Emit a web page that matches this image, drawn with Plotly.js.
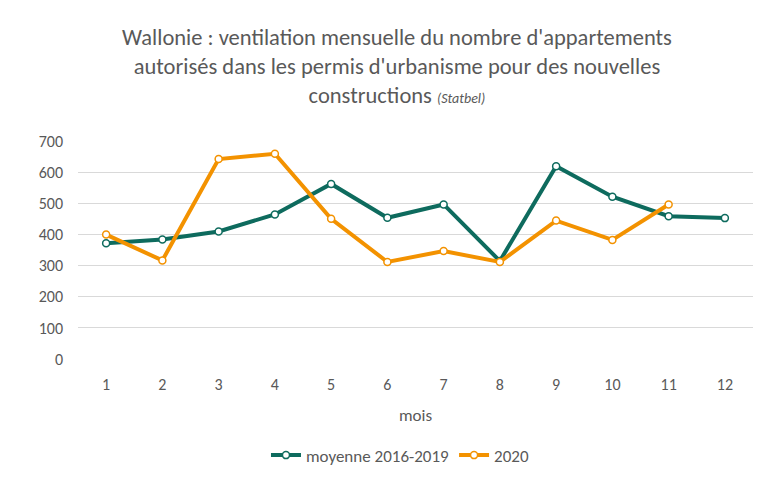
<!DOCTYPE html>
<html><head><meta charset="utf-8">
<script src="https://cdn.plot.ly/plotly-3.0.1.min.js"></script>
<style>html,body{margin:0;padding:0;background:#fff}#c{width:759px;height:482px}</style>
</head><body><div id="c"></div>
<script>
const mois = [1,2,3,4,5,6,7,8,9,10,11,12];
const moyenne = [372,384,410,465,563,454,497,315,620,522,459,453];
const an2020 = [400,317,643,660,451,312,347,312,445,383,497];
const tickLabels = ['0','100','200','300','400','500','600','700'];
const tickVals = [0,100,200,300,400,500,600,700];

const FONT = "Carlito, 'Liberation Sans Narrow', Lato, sans-serif";
const GREY = '#595959';

const traces = [
  {x: mois, y: moyenne, name: 'moyenne 2016-2019', type: 'scatter', mode: 'lines+markers',
   line: {color: '#0e6b5e', width: 4}, marker: {size: 7, color: '#ffffff', line: {color: '#0e6b5e', width: 1.5}}},
  {x: mois.slice(0, an2020.length), y: an2020, name: '2020', type: 'scatter', mode: 'lines+markers',
   line: {color: '#f39200', width: 4}, marker: {size: 7, color: '#ffffff', line: {color: '#f39200', width: 1.5}}}
];

const layout = {
  width: 759, height: 482,
  margin: {l: 77.5, r: 6, t: 140.7, b: 123.3},
  paper_bgcolor: '#fff', plot_bgcolor: '#fff',
  font: {family: FONT, color: GREY, size: 16},
  title: {text: "Wallonie : ventilation mensuelle du nombre d'appartements<br>autorisés dans les permis d'urbanisme pour des nouvelles<br>constructions <i><span style='font-size:14px'>(Statbel)</span></i>",
          font: {family: FONT, size: 22.5, color: GREY}, x: 0.523, xanchor: 'center', y: 0.907, yanchor: 'top', xref: 'container', yref: 'container'},
  xaxis: {range: [0.5, 12.5], tickvals: mois, ticktext: mois.map(String), showgrid: false, zeroline: false,
          showline: false, ticks: '', ticklabelstandoff: 14,
          title: {text: 'mois', font: {size: 17, color: GREY}, standoff: 16}},
  yaxis: {range: [0, 701], tickvals: tickVals, ticktext: tickLabels, gridcolor: '#d9d9d9', gridwidth: 1,
          zeroline: false, showline: false, ticks: '', ticklabelstandoff: 14},
  legend: {orientation: 'h', x: 0.477, xanchor: 'center', y: -0.443, yanchor: 'middle', font: {size: 17, color: GREY}},
  showlegend: true
};
Plotly.newPlot('c', traces, layout, {displayModeBar: false, staticPlot: true});
</script></body></html>
